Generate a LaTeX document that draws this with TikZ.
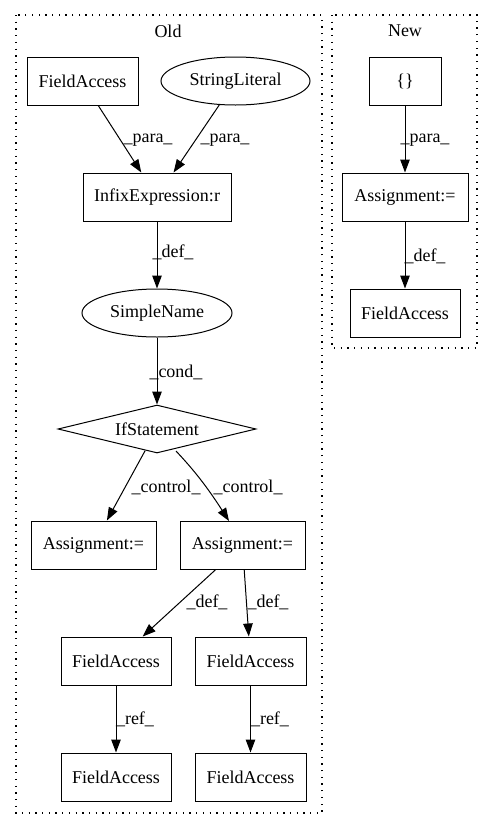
\documentclass[tikz,border=0pt]{standalone}
\usepackage{fontspec}
\setmainfont{Liberation Serif}
\usetikzlibrary{arrows.meta,shapes.geometric}
\begin{document}
\begin{tikzpicture}[x=1pt,y=-1pt,
  every node/.style={font=\fontsize{18}{20}\selectfont, inner sep=0pt},
  box/.style={draw, line width=1pt, rectangle, minimum height=48pt},
  oval/.style={draw, line width=1pt, ellipse, minimum height=48pt},
  cond/.style={draw, line width=1pt, diamond, aspect=4.1, minimum height=48pt, minimum width=198pt},
  edge/.style={line width=1pt, -{Triangle[length=13pt,width=9.5pt]}},
  lbl/.style={font=\fontsize{18}{20}\selectfont},
  cluster/.style={line width=1.3pt, dash pattern=on 1.3pt off 5.4pt}
]
\useasboundingbox (0,0) rectangle (495,828);

% clusters
\draw[cluster] (16,15) rectangle (322,813);
\draw[cluster] (332,15) rectangle (477,348);
\node (oldlbl) at (168,31) {Old};
\node (newlbl) at (405,31) {New};

% Old graph
\node[box, minimum width=111pt] (fa1) at (82.5,81) {FieldAccess};
\node[oval, minimum width=149pt] (sl) at (235.5,81) {StringLiteral};
\node[box, minimum width=148pt] (infix) at (157,197) {InfixExpression:r};
\node[oval, minimum width=150pt] (sn) at (157,313) {SimpleName};
\node[cond] (ifs) at (157,429) {IfStatement};
\node[box, minimum width=125pt] (asl) at (93.5,545) {Assignment:=};
\node[box, minimum width=125pt] (asr) at (242.5,545) {Assignment:=};
\node[box, minimum width=110pt] (fa2) at (116,661) {FieldAccess};
\node[box, minimum width=111pt] (fa3) at (250.5,661) {FieldAccess};
\node[box, minimum width=110pt] (fa4) at (116,777) {FieldAccess};
\node[box, minimum width=111pt] (fa5) at (250.5,777) {FieldAccess};

\coordinate (ifsr) at (176,451);
\coordinate (asrin) at (229,521);

\draw[edge] (fa1) -- (infix);
\draw[edge] (sl) -- (infix);
\draw[edge] (infix) -- (sn);
\draw[edge] (sn) -- (ifs);
\draw[edge] (ifs) -- (asl);
\draw[edge] (ifsr) .. controls (190,466) and (204,482) .. (asrin);
\draw[edge] (asr) -- (fa2);
\draw[edge] (asr) -- (fa3);
\draw[edge] (fa2) -- (fa4);
\draw[edge] (fa3) -- (fa5);

\node[lbl] (l1) at (148,140) {\_para\_};
\node[lbl] (l2) at (225,140) {\_para\_};
\node[lbl] (l3) at (173,252) {\_def\_};
\node[lbl] (l4) at (176,372) {\_cond\_};
\node[lbl] (l5) at (166,487) {\_control\_};
\node[lbl] (l6) at (248,487) {\_control\_};
\node[lbl] (l7) at (207,602) {\_def\_};
\node[lbl] (l8) at (268,602) {\_def\_};
\node[lbl] (l9) at (135,719) {\_ref\_};
\node[lbl] (l10) at (270,719) {\_ref\_};

% New graph
\node[box, minimum width=72pt] (br) at (405,81) {\{\}};
\node[box, minimum width=126pt] (asn) at (405,197) {Assignment:=};
\node[box, minimum width=110pt] (fan) at (405,313) {FieldAccess};
\draw[edge] (br) -- (asn);
\draw[edge] (asn) -- (fan);
\node[lbl] (l11) at (425,140) {\_para\_};
\node[lbl] (l12) at (425,256) {\_def\_};
\end{tikzpicture}
\end{document}
